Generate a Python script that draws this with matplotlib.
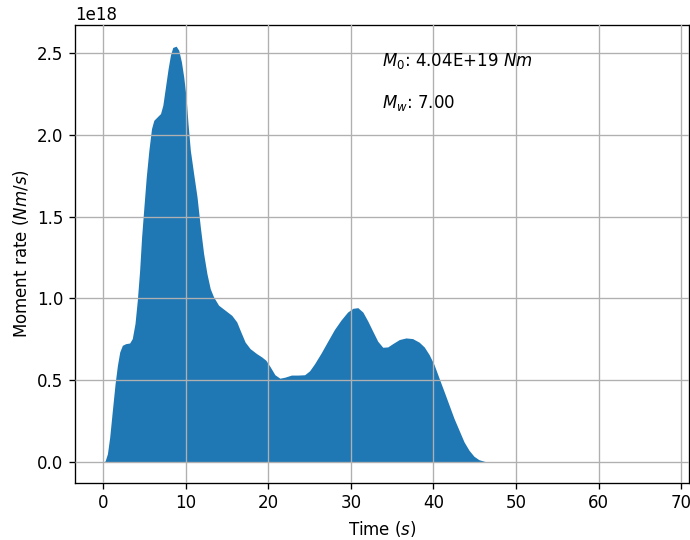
import matplotlib
matplotlib.use('Agg')
import matplotlib.pyplot as plt

# moment rate function (time in s, rate in 1e18 Nm/s)
time_s = [0.0, 0.24, 0.52, 0.80, 1.12, 1.45, 1.73, 2.01, 2.33, 2.73, 3.21,
          3.53, 3.86, 4.14, 4.42, 4.66, 4.94, 5.22, 5.54, 5.86, 6.14, 6.55,
          6.95, 7.23, 7.55, 7.87, 8.15, 8.43, 8.84, 9.16, 9.48, 9.76, 10.04,
          10.28, 10.56, 10.96, 11.37, 11.77, 12.17, 12.57, 12.97, 13.37,
          13.98, 14.78, 15.58, 16.18, 16.59, 17.19, 17.79, 18.59, 19.2, 19.7,
          20.2, 20.8, 21.4, 22.0, 22.8, 23.6, 24.4, 25.0, 25.6, 26.4, 27.2,
          28.0, 28.8, 29.6, 30.24, 30.84, 31.45, 32.05, 32.65, 33.25, 33.86,
          34.46, 35.06, 35.86, 36.67, 37.47, 38.27, 38.88, 39.48, 40.08,
          40.68, 41.29, 41.89, 42.49, 43.09, 43.7, 44.3, 44.9, 45.5, 46.3,
          47.1, 50.0, 60.0, 67.6]
rate_e18 = [0.0, 0.006, 0.05, 0.153, 0.316, 0.479, 0.59, 0.672, 0.713, 0.723,
            0.727, 0.754, 0.846, 0.988, 1.17, 1.375, 1.56, 1.74, 1.905, 2.037,
            2.088, 2.109, 2.129, 2.18, 2.292, 2.404, 2.486, 2.533, 2.541,
            2.516, 2.445, 2.353, 2.231, 2.068, 1.905, 1.762, 1.62, 1.436,
            1.273, 1.151, 1.059, 1.009, 0.958, 0.927, 0.896, 0.856, 0.805,
            0.733, 0.693, 0.662, 0.642, 0.622, 0.584, 0.533, 0.512, 0.518,
            0.531, 0.531, 0.533, 0.557, 0.600, 0.666, 0.738, 0.809, 0.867,
            0.916, 0.939, 0.943, 0.916, 0.861, 0.799, 0.738, 0.701, 0.703,
            0.723, 0.748, 0.758, 0.754, 0.732, 0.703, 0.656, 0.594, 0.512,
            0.430, 0.348, 0.266, 0.195, 0.123, 0.072, 0.035, 0.014, 0.002,
            0.0, 0.0, 0.0, 0.0]

moment_rate = [r * 1e18 for r in rate_e18]
m0_text = '$M_0$: 4.04E+19 $Nm$'
mw_text = '$M_w$: 7.00'

fig = plt.figure(figsize=(5.75, 4.5), dpi=120)
ax = fig.add_axes([0.109, 0.106, 0.89, 0.847])

ax.fill_between(time_s, moment_rate, color='C0', linewidth=0)
ax.grid(True)
ax.set_axisbelow(False)

ax.set_xlabel('Time ($s$)')
ax.set_ylabel('Moment rate ($Nm/s$)')

ax.text(0.5, 0.911, m0_text, transform=ax.transAxes)
ax.text(0.5, 0.820, mw_text, transform=ax.transAxes)

fig.savefig('out.png', dpi=120)
